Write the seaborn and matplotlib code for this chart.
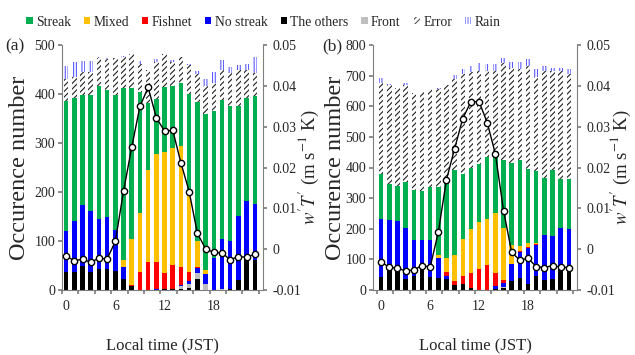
import numpy as np
import pandas as pd
import matplotlib
matplotlib.use("Agg")
import matplotlib.pyplot as plt
import seaborn as sns
from matplotlib.patches import Patch

hours = list(range(24))

# ---- panel (a): cumulative tops of each stacked layer ----
a_others = [36, 36, 50, 36, 42, 42, 38, 22, 8, 0, 0, 0, 3, 3, 3, 4, 22, 0, 0, 0, 3, 20, 63, 61]
a_front = [36, 36, 50, 36, 42, 42, 38, 22, 8, 0, 0, 0, 3, 3, 8, 13, 35, 12, 0, 3, 3, 20, 63, 61]
a_nostreak = [120, 140, 173, 162, 144, 148, 123, 46, 8, 0, 0, 3, 3, 3, 11, 19, 44, 32, 65, 104, 99, 151, 181, 176]
a_fishnet = [120, 140, 173, 162, 144, 148, 123, 46, 11, 36, 57, 58, 34, 52, 46, 36, 46, 32, 65, 104, 99, 151, 181, 176]
a_mixed = [120, 140, 173, 162, 144, 148, 123, 61, 104, 157, 244, 278, 282, 290, 293, 201, 100, 41, 65, 104, 99, 151, 181, 176]
a_streak = [385, 392, 398, 397, 417, 409, 397, 413, 413, 405, 382, 389, 415, 417, 423, 401, 384, 359, 365, 387, 375, 375, 391, 396]
a_error = [430, 435, 444, 444, 473, 471, 473, 476, 482, 462, 449, 466, 481, 466, 475, 459, 440, 416, 423, 449, 442, 449, 449, 442]
a_rain = [457, 465, 467, 467, 475, 473, 473, 478, 482, 467, 449, 471, 481, 469, 476, 461, 447, 430, 444, 469, 455, 459, 461, 475]
a_wt = [-0.0017, -0.0028, -0.0025, -0.0032, -0.0022, -0.0024, 0.0019, 0.0142, 0.0250, 0.0350, 0.0396, 0.0322,
        0.0289, 0.0291, 0.0211, 0.0141, 0.0039, 0.0001, -0.0008, -0.0009, -0.0026, -0.0018, -0.0020, -0.0012]

# ---- panel (b) ----
b_others = [43, 73, 71, 35, 45, 68, 41, 40, 37, 15, 19, 5, 0, 0, 3, 7, 29, 38, 18, 45, 33, 35, 75, 73]
b_front = [43, 73, 71, 35, 45, 68, 41, 40, 37, 15, 19, 5, 0, 0, 3, 9, 29, 38, 18, 45, 33, 35, 75, 73]
b_nostreak = [232, 228, 226, 202, 163, 163, 163, 106, 47, 15, 19, 5, 0, 0, 12, 22, 84, 125, 138, 148, 180, 176, 202, 198]
b_fishnet = [232, 228, 226, 202, 163, 163, 163, 106, 58, 31, 47, 54, 70, 83, 54, 32, 84, 128, 141, 150, 180, 176, 202, 198]
b_mixed = [232, 228, 226, 202, 163, 163, 163, 115, 103, 113, 168, 198, 222, 233, 250, 204, 147, 145, 153, 155, 180, 176, 202, 198]
b_streak = [378, 345, 339, 354, 327, 322, 337, 337, 364, 392, 380, 399, 410, 433, 453, 423, 416, 424, 395, 389, 367, 392, 364, 364]
b_error = [677, 670, 661, 671, 643, 646, 655, 655, 668, 688, 705, 712, 715, 715, 715, 740, 725, 720, 730, 695, 715, 715, 715, 705]
b_rain = [693, 673, 661, 675, 643, 646, 655, 661, 671, 701, 723, 730, 740, 737, 737, 757, 746, 743, 753, 723, 733, 725, 725, 720]
b_wt = [-0.0032, -0.0044, -0.0047, -0.0053, -0.0051, -0.0040, -0.0044, 0.0041, 0.0170, 0.0246, 0.0320, 0.0361,
        0.0361, 0.0310, 0.0233, 0.0094, -0.0008, -0.0027, -0.0022, -0.0043, -0.0045, -0.0040, -0.0044, -0.0045]

labels = ["Streak", "Mixed", "Fishnet", "No streak", "The others", "Front", "Error", "Rain"]
colors = {"Streak": "#00b050", "Mixed": "#ffc000", "Fishnet": "#ff0000", "No streak": "#0000ff",
          "The others": "#000000", "Front": "#bfbfbf", "Error": "white", "Rain": "white"}

sns.set_theme(style="white")
plt.rcParams["font.family"] = ["Liberation Serif", "DejaVu Serif"]
plt.rcParams["mathtext.fontset"] = "stix"
plt.rcParams["hatch.linewidth"] = 0.8

fig = plt.figure(figsize=(6.35, 3.55), dpi=100)
ax_a = fig.add_axes([62 / 635, 1 - 290 / 355, 201 / 635, 245 / 355])
ax_b = fig.add_axes([373 / 635, 1 - 290 / 355, 204 / 635, 245 / 355])

spine_col = "#7f7f7f"
RAIN_EC = "#5a5aff"
ERR_EC = "#222222"


def draw_panel(ax, layers, wt, ymax, ystep, xlim, lx, rx):
    # draw from top layer down so each lower layer overlays
    order = ["Rain", "Error", "Streak", "Mixed", "Fishnet", "No streak", "Front", "The others"]
    for name in order:
        df = pd.DataFrame({"hour": hours, "v": layers[name]})
        if name == "Rain":
            sns.barplot(data=df, x="hour", y="v", color="white", width=0.55, ax=ax,
                        saturation=1, edgecolor=RAIN_EC, linewidth=0, hatch="||||||")
        elif name == "Error":
            sns.barplot(data=df, x="hour", y="v", color="white", width=0.55, ax=ax,
                        saturation=1, edgecolor=ERR_EC, linewidth=0, hatch="//////")
        else:
            sns.barplot(data=df, x="hour", y="v", color=colors[name], width=0.55, ax=ax,
                        saturation=1, linewidth=0)
    ax.set_xlim(*xlim)
    ax.set_ylim(0, ymax)
    ticks = np.arange(0, ymax + 1, ystep)
    ax.set_yticks(ticks)
    ax.set_yticklabels([str(int(v)) for v in ticks], fontsize=10)
    ax.set_xticks(np.arange(-0.5, 24, 2), minor=False)
    ax.set_xticklabels([])
    ax.set_xticks([0, 6, 12, 18], minor=True)
    ax.set_xticklabels(["0", "6", "12", "18"], minor=True, fontsize=10)
    ax.tick_params(axis="x", which="major", direction="out", length=3, color=spine_col, bottom=True)
    ax.tick_params(axis="x", which="minor", length=0, pad=7, bottom=True)
    ax.tick_params(axis="y", direction="out", length=3, color=spine_col, left=True, pad=2)
    ax.set_xlabel("Local time (JST)", fontsize=12, labelpad=18)
    ax.set_ylabel("Occurence number", fontsize=17.5)
    ax.yaxis.set_label_coords(lx, 0.5)
    for s in ["top", "right"]:
        ax.spines[s].set_visible(False)
    for s in ["left", "bottom"]:
        ax.spines[s].set_color(spine_col)
        ax.spines[s].set_linewidth(0.8)
    ax.grid(False)

    ax2 = ax.twinx()
    sns.lineplot(x=hours, y=wt, ax=ax2, color="black", linewidth=1.0, marker="o",
                 markersize=4.5, markerfacecolor="white", markeredgecolor="black",
                 markeredgewidth=1.0)
    ax2.set_ylim(-0.01, 0.05)
    ax2.set_yticks([-0.01, 0, 0.01, 0.02, 0.03, 0.04, 0.05])
    ax2.set_yticklabels(["-0.01", "0", "0.01", "0.02", "0.03", "0.04", "0.05"], fontsize=10)
    ax2.tick_params(axis="y", direction="out", length=3, color=spine_col, right=True, pad=4)
    for s in ["top", "left", "bottom"]:
        ax2.spines[s].set_visible(False)
    ax2.spines["right"].set_color(spine_col)
    ax2.spines["right"].set_linewidth(0.8)
    ax2.grid(False)
    ax2.set_ylabel(r"$w'T'$ (m s$^{-1}$ K)", fontsize=13.5)
    ax2.yaxis.set_label_coords(rx, 0.5)
    ax2.set_xlim(*xlim)
    return ax2


layers_a = {"The others": a_others, "Front": a_front, "No streak": a_nostreak, "Fishnet": a_fishnet,
            "Mixed": a_mixed, "Streak": a_streak, "Error": a_error, "Rain": a_rain}
layers_b = {"The others": b_others, "Front": b_front, "No streak": b_nostreak, "Fishnet": b_fishnet,
            "Mixed": b_mixed, "Streak": b_streak, "Error": b_error, "Rain": b_rain}

draw_panel(ax_a, layers_a, a_wt, 500, 100, (-0.5, 24.0), (30 - 62) / 201, (297 - 62) / 201)
draw_panel(ax_b, layers_b, b_wt, 800, 100, (-1.0, 24.0), (346 - 373) / 204, (609 - 373) / 204)

fig.text(5 / 635, 1 - 46 / 355, "(a)", fontsize=12.5, va="center", ha="left")
fig.text(322 / 635, 1 - 46 / 355, "(b)", fontsize=12.5, va="center", ha="left")

handles = []
for name in labels:
    if name == "Error":
        handles.append(Patch(facecolor="white", edgecolor="#555555", hatch="//////", linewidth=0))
    elif name == "Rain":
        handles.append(Patch(facecolor="white", edgecolor="#8080ff", hatch="||||||", linewidth=0))
    else:
        handles.append(Patch(facecolor=colors[name], edgecolor="none"))
fig.legend(handles, labels, loc="center", bbox_to_anchor=(263.5 / 635, 1 - 22 / 355), ncol=8,
           frameon=False, fontsize=9.8, handlelength=0.46, handleheight=0.46, handletextpad=0.25,
           columnspacing=0.95, borderaxespad=0)

fig.savefig("out.png", dpi=100)
